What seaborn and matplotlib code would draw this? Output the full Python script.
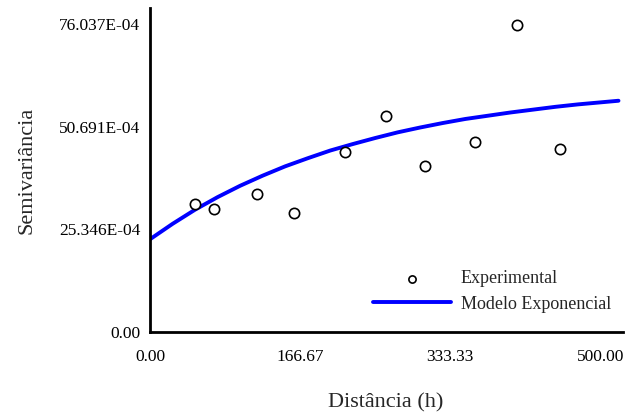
import numpy as np
import pandas as pd
import matplotlib
matplotlib.use("Agg")
import matplotlib.pyplot as plt
import seaborn as sns

# valores em unidades de E-04
dist_exp = [49.8, 71.2, 119.2, 159.5, 216.0, 262.0, 305.3, 360.7, 406.8, 455.0]
semivar_exp = [31.6, 30.3, 34.0, 29.5, 44.5, 53.4, 40.9, 47.0, 75.8, 45.3]

# curva do modelo
dist_mod = [0, 25, 50, 75, 100, 125, 150, 175, 200, 225, 250, 275, 300,
            325, 350, 375, 400, 425, 450, 475, 500, 520]
semivar_mod = [22.9, 26.7, 30.2, 33.3, 36.1, 38.6, 40.9, 42.9, 44.8, 46.4,
               47.9, 49.3, 50.5, 51.6, 52.6, 53.4, 54.2, 54.9, 55.6, 56.2,
               56.7, 57.1]

x_ticks = [0.0, 166.67, 333.33, 500.0]
y_ticks = [0.0, 25.346, 50.691, 76.037]

sns.set_style("white")
plt.rcParams["font.family"] = ["Liberation Serif", "DejaVu Serif"]

exp_df = pd.DataFrame({"h": dist_exp, "g": semivar_exp})
mod_df = pd.DataFrame({"h": dist_mod, "g": semivar_mod})

fig = plt.figure(figsize=(6.3, 4.19), dpi=100)
ax = fig.add_axes([150 / 630, 1 - 332 / 419, 473 / 630, 324 / 419])

sns.scatterplot(data=exp_df, x="h", y="g", ax=ax, s=55, facecolor="white",
                edgecolor="black", linewidth=1.2, label="Experimental", zorder=3)
sns.lineplot(data=mod_df, x="h", y="g", ax=ax, color="#0000ff", linewidth=2.8,
             estimator=None, label="Modelo Exponencial", zorder=2)

ax.set_xlim(0, 525)
ax.set_ylim(0, 80)
ax.set_xticks(x_ticks)
ax.set_xticklabels([f"{v:.2f}" for v in x_ticks])
ax.set_yticks(y_ticks)
ax.set_yticklabels(["0.00"] + [f"{v:.3f}E-04" for v in y_ticks[1:]])

for side in ["top", "right"]:
    ax.spines[side].set_visible(False)
for side in ["left", "bottom"]:
    ax.spines[side].set_linewidth(2.0)
    ax.spines[side].set_color("black")

ax.tick_params(axis="both", direction="inout", length=6, width=1.8,
               labelsize=12.5, colors="black")
ax.tick_params(axis="x", pad=9)
ax.tick_params(axis="y", pad=4)

ax.set_xlabel("Distância (h)", fontsize=16, va="center")
ax.set_ylabel("Semivariância", fontsize=16, va="center")
ax.xaxis.set_label_coords(0.499, -0.22)
ax.yaxis.set_label_coords(-0.26, 0.5)

ax.legend(loc="lower left", bbox_to_anchor=(0.4715, 0.06), frameon=False,
          fontsize=13, handlelength=4.3, handletextpad=0.55, labelspacing=0.45,
          borderpad=0, borderaxespad=0, markerscale=0.7)

fig.savefig("out.png", dpi=100)
